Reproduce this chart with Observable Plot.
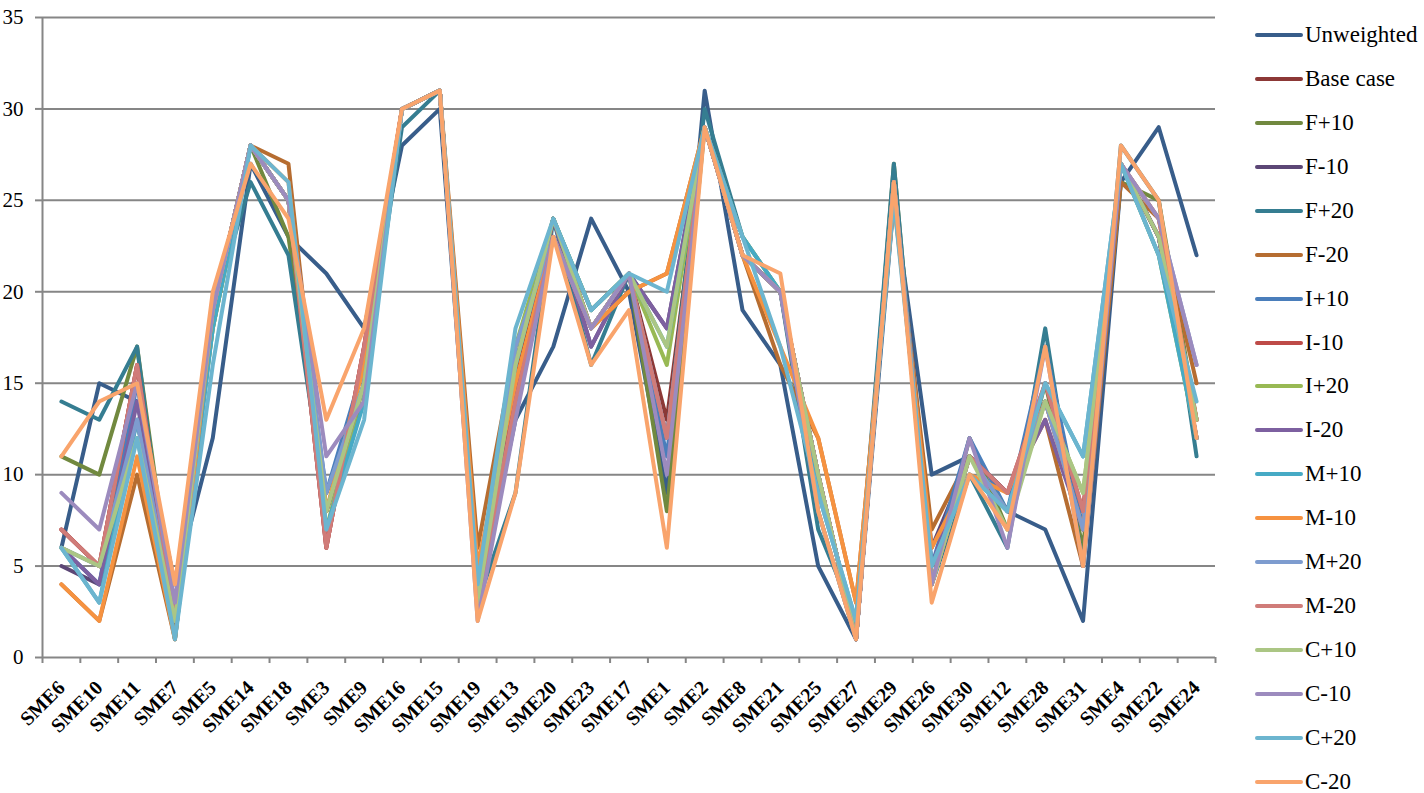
<!DOCTYPE html>
<html>
<head>
<meta charset="utf-8">
<script src="https://cdn.jsdelivr.net/npm/d3@7"></script>
<script src="https://cdn.jsdelivr.net/npm/@observablehq/plot@0.6"></script>
<style>
  html, body { margin: 0; padding: 0; background: #fff; }
  #wrap { position: relative; width: 1424px; height: 793px; overflow: hidden; }
  #legend { position: absolute; left: 1255px; top: 13px; font-family: "Liberation Serif", "Times New Roman", Times, serif; font-size: 23px; color: #000; }
  .row { display: flex; align-items: center; height: 43.95px; }
  .sw { width: 48px; height: 4px; border-radius: 2px; margin-right: 2px; }
</style>
</head>
<body>
<div id="wrap"><div id="chart"></div><div id="legend"></div></div>
<script>
const categories = ["SME6","SME10","SME11","SME7","SME5","SME14","SME18","SME3","SME9","SME16","SME15","SME19","SME13","SME20","SME23","SME17","SME1","SME2","SME8","SME21","SME25","SME27","SME29","SME26","SME30","SME12","SME28","SME31","SME4","SME22","SME24"];

const unweighted = [6,15,14,4,12,27,23,21,18,28,30,3,13,17,24,20,9,31,19,16,5,1,25,10,11,8,7,2,26,29,22];
const baseCase   = [7,5,16,2,19,28,25,6,17,30,31,3,15,24,18,21,13,29,22,20,10,1,26,4,11,9,14,8,27,23,12];
const fPlus10    = [11,10,17,2,18,28,23,9,14,30,31,3,16,24,19,21,8,29,22,20,8,1,27,4,12,7,15,6,26,25,13];
const fMinus10   = [5,4,13,2,19,28,25,8,15,30,31,3,16,24,17,21,18,29,22,20,10,1,26,6,11,9,14,7,27,23,12];
const fPlus20    = [14,13,17,1,19,26,22,8,15,29,31,3,9,24,16,21,12,30,23,20,7,2,27,4,10,6,18,5,28,25,11];
const fMinus20   = [4,2,10,1,19,28,27,8,14,30,31,6,17,23,18,20,21,29,22,16,12,3,25,7,11,9,13,5,26,24,15];
const iPlus10    = [6,4,15,2,19,28,25,9,16,30,31,3,14,24,18,21,11,29,22,20,10,1,26,5,12,8,17,7,27,23,13];
const iMinus10   = [7,5,16,2,19,28,25,6,17,30,31,3,14,24,18,21,12,29,22,20,10,1,26,4,11,9,15,8,27,23,13];
const iPlus20    = [6,5,13,2,18,28,25,7,15,30,31,3,17,24,19,21,16,29,23,20,10,1,26,4,11,8,14,9,27,22,12];
const iMinus20   = [6,4,14,2,19,28,25,8,15,30,31,3,16,24,17,21,18,29,22,20,10,1,26,5,11,9,13,7,27,23,12];
const mPlus10    = [6,3,13,1,18,28,25,7,14,30,31,4,16,24,19,21,17,29,23,20,9,2,26,5,10,8,15,11,27,22,12];
const mMinus10   = [4,2,11,1,19,28,26,8,16,30,31,5,15,23,18,20,21,29,22,17,12,3,25,6,10,9,14,7,27,24,13];
const mPlus20    = [6,5,13,2,19,28,25,9,15,30,31,3,17,23,18,21,12,29,22,20,10,1,26,4,11,8,14,7,27,24,16];
const mMinus20   = [7,5,16,2,19,28,25,6,17,30,31,3,14,23,18,21,12,29,22,20,10,1,26,4,11,9,15,8,27,24,13];
const cPlus10    = [6,5,12,2,19,28,25,8,15,30,31,3,16,24,18,21,17,29,22,20,10,1,26,4,11,7,14,9,27,23,13];
const cMinus10   = [9,7,15,3,19,28,25,11,14,30,31,2,13,23,18,21,10,29,22,20,8,1,26,4,12,6,17,5,27,24,16];
const cPlus20    = [6,3,12,1,16,28,26,7,13,30,31,4,18,24,19,21,20,29,23,17,9,2,25,5,10,8,15,11,27,22,14];
const cMinus20   = [11,14,15,4,20,27,24,13,18,30,31,2,9,23,16,19,6,29,22,21,8,1,26,3,10,7,17,5,28,25,12];

const seriesNames = ["Unweighted","Base case","F+10","F-10","F+20","F-20","I+10","I-10","I+20","I-20","M+10","M-10","M+20","M-20","C+10","C-10","C+20","C-20"];
const seriesValues = [unweighted, baseCase, fPlus10, fMinus10, fPlus20, fMinus20, iPlus10, iMinus10, iPlus20, iMinus20, mPlus10, mMinus10, mPlus20, mMinus20, cPlus10, cMinus10, cPlus20, cMinus20];
const seriesColors = ["#385D8A","#8C3836","#71893F","#5C4776","#357D91","#B66D31","#4A7EBB","#BE4B48","#98B954","#7D60A0","#46AAC5","#F69240","#7E9CCF","#D07C79","#ABC684","#9C8BBE","#6CB5CF","#F9A46C"];
const yTicks = [0,5,10,15,20,25,30,35];

const rows = seriesNames.flatMap((s, k) =>
  categories.map((c, i) => ({series: s, index: i, category: c, rank: seriesValues[k][i]})));

const idx = categories.map((c, i) => i);
const bounds = categories.map((c, i) => i - 0.5).concat([categories.length - 0.5]);

const chart = Plot.plot({
  width: 1424,
  height: 793,
  marginLeft: 42,
  marginRight: 209,
  marginTop: 17,
  marginBottom: 136,
  style: {fontFamily: "'Liberation Serif', 'Times New Roman', Times, serif", background: "#fff", color: "#000"},
  x: {type: "linear", domain: [-0.5, categories.length - 0.5]},
  y: {domain: [0, 35]},
  color: {domain: seriesNames, range: seriesColors},
  marks: [
    Plot.gridY(yTicks, {stroke: "#868686", strokeOpacity: 1, strokeWidth: 2}),
    Plot.ruleX([-0.5], {stroke: "#868686", strokeWidth: 2}),
    Plot.axisY(yTicks, {tickSize: 7, tickPadding: 12, fontSize: 21, stroke: "#868686", strokeWidth: 2, label: null}),
    Plot.axisX(bounds, {tickSize: 6, tickFormat: () => "", stroke: "#868686", strokeWidth: 2, label: null}),
    Plot.axisX(idx, {tickSize: 0, tickPadding: 27, tickFormat: i => categories[i], rotate: -45, textAnchor: "end", lineAnchor: "middle", fontSize: 20, fontWeight: "bold", label: null}),
    Plot.line(rows, {x: "index", y: "rank", z: "series", stroke: "series", strokeWidth: 4, strokeLinejoin: "round", strokeLinecap: "round"})
  ]
});
document.getElementById("chart").appendChild(chart);

const legend = document.getElementById("legend");
seriesNames.forEach((s, k) => {
  const row = document.createElement("div");
  row.className = "row";
  const sw = document.createElement("div");
  sw.className = "sw";
  sw.style.background = seriesColors[k];
  const t = document.createElement("span");
  t.textContent = s;
  row.appendChild(sw);
  row.appendChild(t);
  legend.appendChild(row);
});
</script>
</body>
</html>
